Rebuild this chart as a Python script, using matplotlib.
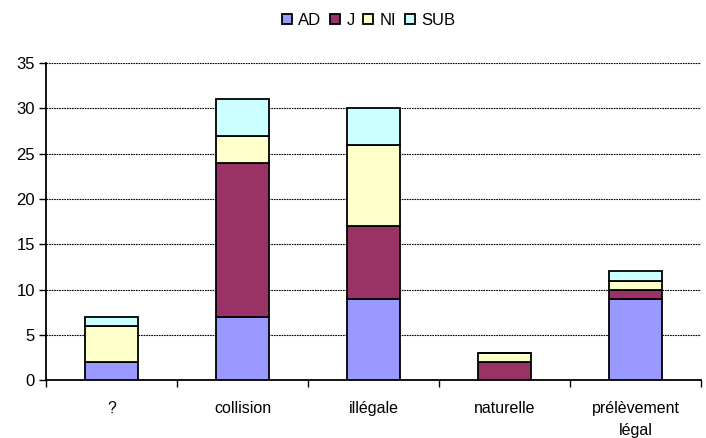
import numpy as np
import matplotlib
matplotlib.use('Agg')
import matplotlib.pyplot as plt

plt.rcParams['font.family'] = ['Liberation Sans', 'DejaVu Sans']

categories = ['?', 'collision', 'illégale', 'naturelle', 'prélèvement\nlégal']
series_names = ['AD', 'J', 'NI', 'SUB']
ad = [2, 7, 9, 0, 9]
j = [0, 17, 8, 2, 1]
ni = [4, 3, 9, 1, 1]
sub = [1, 4, 4, 0, 1]
colors = ['#9999FF', '#993366', '#FFFFCC', '#CCFFFF']

fig = plt.figure(figsize=(7.06, 4.38), dpi=100)
ax = fig.add_axes([0.065, 0.132, 0.928, 0.724])

x = np.arange(len(categories))
bottom = np.zeros(len(categories))
for name, vals, c in zip(series_names, [ad, j, ni, sub], colors):
    vals = np.array(vals, dtype=float)
    ax.bar(x, vals, 0.4, bottom=bottom, color=c, edgecolor='black',
           linewidth=1.3, label=name, zorder=3)
    bottom += vals

ax.set_xlim(-0.5, len(categories) - 0.5)
ax.set_ylim(0, 35)
ax.set_yticks(range(0, 36, 5))
ax.yaxis.grid(True, linestyle=(0, (1.5, 0.8)), color='black', linewidth=0.8, zorder=0)
ax.set_xticks(x)
ax.set_xticklabels(categories, fontsize=11.5, linespacing=1.6)
ax.set_xticks(np.arange(-0.5, len(categories)), minor=True)
ax.tick_params(axis='x', which='major', length=0, pad=15)
ax.tick_params(axis='x', which='minor', length=5, direction='out', width=1)
ax.tick_params(axis='y', labelsize=12, length=5, width=1, direction='out', pad=3)
for s in ['top', 'right']:
    ax.spines[s].set_visible(False)
ax.spines['left'].set_linewidth(1.3)
ax.spines['bottom'].set_linewidth(1.3)

fig.legend(loc='upper center', bbox_to_anchor=(0.522, 1.005), ncol=4, frameon=False,
           fontsize=12, handlelength=0.6, handleheight=0.6, handletextpad=0.4,
           columnspacing=0.5)

fig.savefig('out.png', dpi=100)
